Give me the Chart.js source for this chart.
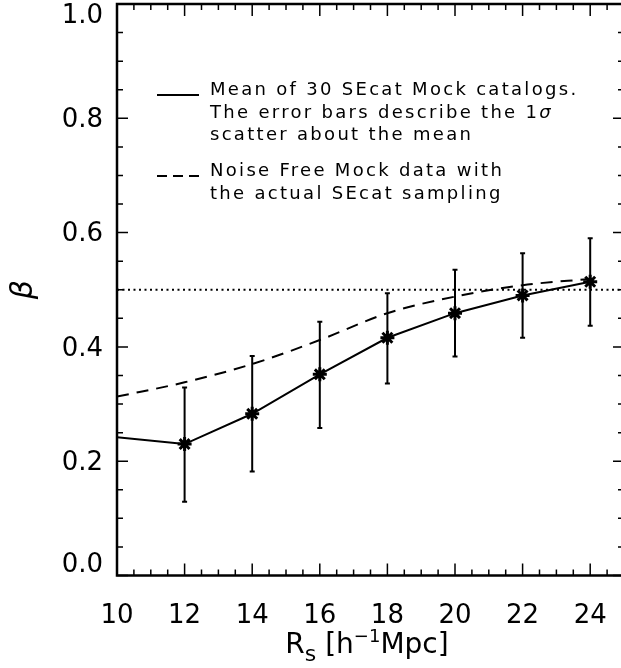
<!DOCTYPE html>
<html>
<head>
<meta charset="utf-8">
<script src="https://cdn.jsdelivr.net/npm/chart.js@4"></script>
<style>
  html, body { margin: 0; padding: 0; background: #fff; overflow: hidden; }
  #chart { display: block; }
</style>
</head>
<body>
<canvas id="chart" width="624" height="668" style="width:624px;height:668px"></canvas>
<script>
// data
const xVals = [10, 12, 14, 16, 18, 20, 22, 24];
const meanBeta = [0.242, 0.230, 0.283, 0.352, 0.416, 0.459, 0.490, 0.514];
const errHigh = [null, 0.329, 0.384, 0.444, 0.494, 0.535, 0.564, 0.590];
const errLow = [null, 0.129, 0.182, 0.258, 0.336, 0.383, 0.416, 0.437];
const noiseFree = [0.313, 0.338, 0.370, 0.412, 0.459, 0.488, 0.508, 0.519];
const refX = [10, 25];
const refBeta = [0.5, 0.5];
const xTickValues = [10, 12, 14, 16, 18, 20, 22, 24];
const yTickValues = [0, 0.2, 0.4, 0.6, 0.8, 1.0];
const yTickLabels = ['0.0', '0.2', '0.4', '0.6', '0.8', '1.0'];

const FONT = '"DejaVu Sans", sans-serif';

const errorBars = {
    id: 'errorBars',
    afterDatasetsDraw(chart) {
        const ctx = chart.ctx;
        const meta = chart.getDatasetMeta(0);
        const y = chart.scales.y;
        ctx.save();
        ctx.strokeStyle = '#000';
        ctx.lineWidth = 2;
        meta.data.forEach((pt, i) => {
            if (errHigh[i] == null) return;
            const yt = y.getPixelForValue(errHigh[i]);
            const yb = y.getPixelForValue(errLow[i]);
            ctx.beginPath();
            ctx.moveTo(pt.x, yt); ctx.lineTo(pt.x, yb);
            ctx.moveTo(pt.x - 2.5, yt); ctx.lineTo(pt.x + 2.5, yt);
            ctx.moveTo(pt.x - 2.5, yb); ctx.lineTo(pt.x + 2.5, yb);
            ctx.stroke();
        });
        ctx.restore();
    }
};

function drawSegments(ctx, x, y, parts) {
    parts.forEach(p => {
        ctx.font = p.font;
        ctx.fillText(p.text, x, y + (p.dy || 0));
        x += ctx.measureText(p.text).width;
    });
    return x;
}

const frame = {
    id: 'frame',
    afterDraw(chart) {
        const ctx = chart.ctx;
        const a = chart.chartArea;
        const xs = chart.scales.x, ys = chart.scales.y;
        ctx.save();
        ctx.strokeStyle = '#000';
        ctx.fillStyle = '#000';

        // box
        ctx.lineWidth = 2.5;
        ctx.strokeRect(a.left, a.top, a.right - a.left, a.bottom - a.top);

        // inward tick marks
        ctx.lineWidth = 1.5;
        ctx.beginPath();
        for (let v = 10; v <= 25.001; v += 0.5) {
            const px = xs.getPixelForValue(v);
            const len = Math.abs(v % 2) < 1e-6 ? 12 : 6;
            ctx.moveTo(px, a.bottom); ctx.lineTo(px, a.bottom - len);
            ctx.moveTo(px, a.top); ctx.lineTo(px, a.top + len);
        }
        for (let k = 0; k <= 20; k++) {
            const v = k * 0.05;
            const py = ys.getPixelForValue(v);
            const len = k % 4 === 0 ? 11 : 6;
            ctx.moveTo(a.left, py); ctx.lineTo(a.left + len, py);
            ctx.moveTo(a.right, py); ctx.lineTo(a.right - len, py);
        }
        ctx.stroke();

        // y tick labels
        ctx.font = '26px ' + FONT;
        ctx.textAlign = 'right';
        ctx.textBaseline = 'middle';
        yTickValues.forEach((v, i) => {
            const py = Math.min(Math.max(ys.getPixelForValue(v) + 2, 16), 565);
            ctx.fillText(yTickLabels[i], 103, py);
        });

        // y title
        ctx.save();
        ctx.translate(24, (a.top + a.bottom) / 2);
        ctx.rotate(-Math.PI / 2);
        ctx.textAlign = 'center';
        ctx.font = 'italic 30px ' + FONT;
        ctx.fillText('β', 0, 0);
        ctx.restore();

        // x title: R_s [h^-1 Mpc]
        ctx.textAlign = 'left';
        ctx.textBaseline = 'alphabetic';
        const xParts = [
            { text: 'R', font: '28px ' + FONT },
            { text: 's', font: '22px ' + FONT, dy: 8 },
            { text: ' [h', font: '28px ' + FONT },
            { text: '−1', font: '18px ' + FONT, dy: -11 },
            { text: 'Mpc]', font: '28px ' + FONT }
        ];
        let w = 0;
        xParts.forEach(p => { ctx.font = p.font; w += ctx.measureText(p.text).width; });
        drawSegments(ctx, 367 - w / 2, 653, xParts);

        // legend
        ctx.letterSpacing = '2.3px';
        ctx.textBaseline = 'middle';
        const lf = '18px ' + FONT;
        ctx.lineWidth = 2;
        ctx.beginPath();
        ctx.moveTo(157, 95); ctx.lineTo(199, 95);
        ctx.stroke();
        ctx.setLineDash([10, 6]);
        ctx.beginPath();
        ctx.moveTo(157, 176); ctx.lineTo(199, 176);
        ctx.stroke();
        ctx.setLineDash([]);
        drawSegments(ctx, 210, 90, [{ text: 'Mean of 30 SEcat Mock catalogs.', font: lf }]);
        drawSegments(ctx, 210, 113, [
            { text: 'The error bars describe the 1', font: lf },
            { text: 'σ', font: 'italic ' + lf }
        ]);
        drawSegments(ctx, 210, 135, [{ text: 'scatter about the mean', font: lf }]);
        drawSegments(ctx, 210, 171, [{ text: 'Noise Free Mock data with', font: lf }]);
        drawSegments(ctx, 210, 194, [{ text: 'the actual SEcat sampling', font: lf }]);
        ctx.restore();
    }
};

const config = {
    type: 'scatter',
    data: {
        datasets: [{
            label: 'Mean of 30 SEcat Mock catalogs',
            data: xVals.map((x, i) => ({ x: x, y: meanBeta[i] })),
            showLine: true,
            borderColor: '#000',
            borderWidth: 2,
            pointStyle: 'star',
            pointRadius: xVals.map((x, i) => errHigh[i] == null ? 0 : 7),
            pointBorderWidth: 3,
            pointBorderColor: '#000',
            pointBackgroundColor: '#000'
        }, {
            label: 'Noise Free Mock data',
            data: xVals.map((x, i) => ({ x: x, y: noiseFree[i] })),
            showLine: true,
            borderColor: '#000',
            borderWidth: 2,
            borderDash: [12, 8],
            cubicInterpolationMode: 'monotone',
            pointRadius: 0
        }, {
            label: 'beta = 0.5',
            data: refX.map((x, i) => ({ x: x, y: refBeta[i] })),
            showLine: true,
            borderColor: '#000',
            borderWidth: 1.8,
            borderDash: [2, 3.5],
            pointRadius: 0
        }]
    },
    options: {
        responsive: false,
        animation: false,
        layout: { autoPadding: false, padding: { top: 4, left: 0, right: 0, bottom: 0 } },
        plugins: {
            legend: { display: false },
            tooltip: { enabled: false }
        },
        scales: {
            x: {
                type: 'linear',
                min: 10,
                max: 25,
                grid: { display: false },
                border: { display: false },
                afterBuildTicks(s) {
                    s.ticks = xTickValues.map(v => ({ value: v }));
                },
                ticks: {
                    autoSkip: false,
                    maxRotation: 0,
                    padding: 17,
                    color: '#000',
                    font: { family: FONT, size: 26 }
                },
                afterFit(s) {
                    s.height = 92.5;
                    s.paddingLeft = 0;
                    s.paddingRight = 0;
                }
            },
            y: {
                min: 0,
                max: 1,
                grid: { display: false },
                border: { display: false },
                ticks: { display: false },
                afterFit(s) {
                    s.width = 117;
                    s.paddingTop = 0;
                    s.paddingBottom = 0;
                }
            }
        }
    },
    plugins: [errorBars, frame]
};

new Chart(document.getElementById('chart').getContext('2d'), config);
</script>
</body>
</html>
